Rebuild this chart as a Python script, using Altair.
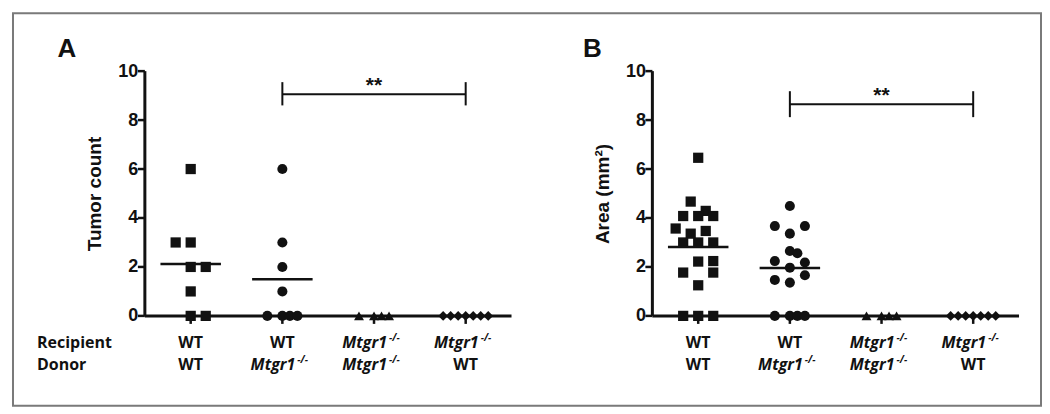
import altair as alt
import pandas as pd

# ---------------- data ----------------
group_ids = [0, 1, 2, 3]
recipient = ["WT", "WT", "Mtgr1", "Mtgr1"]
donor = ["WT", "Mtgr1", "Mtgr1", "WT"]
shapes = ["square", "circle", "triangle-up", "diamond"]
y_tick_values = [0, 2, 4, 6, 8, 10]
x_limits = [-0.5, 3.5]
y_limits = [0, 10]

# Panel A: tumor count (value, horizontal slot within the column)
count_wt_wt = [6, 3, 3, 2, 2, 1, 0, 0]
count_wt_wt_slot = [0, -2, 0, 0, 2, 0, 0, 2]
count_wt_ko = [6, 3, 2, 1, 0, 0, 0, 0]
count_wt_ko_slot = [0, 0, 0, 0, -2, 0, 1, 2]
count_ko_ko = [0, 0, 0, 0]
count_ko_ko_slot = [-2, 0, 1, 2]
count_ko_wt = [0, 0, 0, 0, 0, 0, 0]
count_ko_wt_slot = [-3, -2, -1, 0, 1, 2, 3]

# Panel B: area (mm2)
area_wt_wt = [6.46, 4.67, 4.29, 4.08, 4.08, 4.08, 3.57, 3.47, 3.36, 3.0, 3.0, 3.0,
              2.22, 2.24, 1.77, 1.77, 1.25, 0, 0, 0]
area_wt_wt_slot = [0, -1, 1, -2, 0, 2, -3, 1, -1, -2, 0, 2, 0, 2, -2, 2, 0, -2, 0, 2]
area_wt_ko = [4.49, 3.67, 3.67, 3.36, 2.65, 2.56, 2.24, 2.18, 1.97, 1.66, 1.47, 1.36,
              0, 0, 0, 0]
area_wt_ko_slot = [0, -2, 2, 0, 0, 1, -2, 2, 0, 2, -2, 0, -2, 0, 1, 2]
area_ko_ko = [0, 0, 0, 0]
area_ko_ko_slot = [-2, 0, 1, 2]
area_ko_wt = [0, 0, 0, 0, 0, 0, 0]
area_ko_wt_slot = [-3, -2, -1, 0, 1, 2, 3]

# significance brackets: from group, to group, bar level, tick low/high, star level
bracket_a = [1, 3, 9.06, 8.6, 9.55, 9.5]
bracket_b = [1, 3, 8.65, 8.12, 9.18, 9.1]

# ---------------- style ----------------
W, H = 367, 245
SLOT = 0.082
NUM_FONT = "Liberation Sans"
LAB_FONT = "Open Sans"
INK = "#111111"

x_scale = alt.Scale(domain=x_limits, nice=False, zero=False)
y_scale = alt.Scale(domain=y_limits, nice=False)

AXIS_STYLE = dict(grid=False, domain=False, tickColor="transparent")


def xe(field):
    return alt.X(field, scale=x_scale,
                 axis=alt.Axis(values=group_ids, labels=False, title=None, tickSize=7,
                               **AXIS_STYLE))


def ye(field, title):
    return alt.Y(field, scale=y_scale,
                 axis=alt.Axis(values=y_tick_values, title=title, tickSize=6,
                               labelFont=NUM_FONT, labelFontSize=18, labelFontWeight="bold",
                               labelColor=INK, labelPadding=1, titleFont=NUM_FONT,
                               titleFontSize=19, titleFontWeight="bold", titleColor=INK,
                               titlePadding=13, **AXIS_STYLE))


def points_frame(vals, slots):
    rows = []
    for g, (vs, ss) in enumerate(zip(vals, slots)):
        for v, s in zip(vs, ss):
            rows.append({"group": g, "value": v, "slot": s, "shape": shapes[g]})
    return pd.DataFrame(rows)


labels_df = pd.DataFrame({"group": group_ids, "recipient": recipient, "donor": donor})
yticks_df = pd.DataFrame({"v": y_tick_values})
xaxis_df = pd.DataFrame({"x1": [x_limits[0]], "x2": [x_limits[1]], "y": [y_limits[0]]})
yaxis_df = pd.DataFrame({"x": [x_limits[0]], "y1": [y_limits[0]], "y2": [y_limits[1]]})


def panel(df, ytitle, bracket, letter, letter_x, with_row_titles, with_frame):
    base = alt.Chart(df)
    pts = base.transform_calculate(xpos=f"datum.group + datum.slot * {SLOT}").mark_point(
        filled=True, opacity=1, color=INK
    ).encode(
        x=xe("xpos:Q"),
        y=ye("value:Q", ytitle),
        shape=alt.Shape("shape:N", scale=alt.Scale(domain=shapes, range=shapes), legend=None),
        size=alt.Size("shape:O", scale=alt.Scale(domain=shapes, range=[105, 95, 60, 50]),
                      legend=None),
    )
    means = base.transform_aggregate(mean="mean(value)", groupby=["group"]).transform_filter(
        "datum.mean > 0"
    ).transform_calculate(x1="datum.group - 0.33", x2="datum.group + 0.33").mark_rule(
        strokeWidth=2.5, color=INK
    ).encode(x=xe("x1:Q"), x2="x2:Q", y=ye("mean:Q", ytitle))

    # heavy black axis lines and ticks
    xline = alt.Chart(xaxis_df).mark_rule(strokeWidth=3, color=INK).encode(
        x=xe("x1:Q"), x2="x2:Q", y=ye("y:Q", ytitle))
    yline = alt.Chart(yaxis_df).mark_rule(strokeWidth=3, color=INK).encode(
        x=xe("x:Q"), y=ye("y1:Q", ytitle), y2="y2:Q")
    yticks = alt.Chart(yticks_df).mark_rule(strokeWidth=2.5, color=INK).encode(
        x=alt.value(-7), x2=alt.value(0), y=ye("v:Q", ytitle))
    xticks = alt.Chart(labels_df).mark_rule(strokeWidth=2.5, color=INK).encode(
        x=xe("group:Q"), y=alt.value(H), y2=alt.value(H + 8))

    bdf = pd.DataFrame({"x1": [bracket[0]], "x2": [bracket[1]], "y": [bracket[2]],
                        "star": [bracket[5]], "mid": [(bracket[0] + bracket[1]) / 2]})
    tdf = pd.DataFrame({"x": [bracket[0], bracket[1]], "lo": [bracket[3]] * 2,
                        "hi": [bracket[4]] * 2})
    bar = alt.Chart(bdf).mark_rule(strokeWidth=2, color=INK).encode(
        x=xe("x1:Q"), x2="x2:Q", y=ye("y:Q", ytitle))
    ticks = alt.Chart(tdf).mark_rule(strokeWidth=2, color=INK).encode(
        x=xe("x:Q"), y=ye("lo:Q", ytitle), y2="hi:Q")
    star = alt.Chart(bdf).mark_text(text="**", font=NUM_FONT, fontWeight="bold",
                                    fontSize=21, baseline="middle", color=INK, dy=3).encode(
        x=xe("mid:Q"), y=ye("star:Q", ytitle))

    layers = [xline, yline, yticks, xticks, means, bar, ticks, star, pts]
    if with_frame:
        frame = alt.Chart(pd.DataFrame({"f": [0]})).mark_rect(
            filled=False, color="#7a7a7a", strokeWidth=2
        ).encode(x=alt.value(-132), x2=alt.value(897), y=alt.value(-58), y2=alt.value(335))
        layers.append(frame)

    # group labels below the axis
    for field, ypix in [("recipient", 272), ("donor", 294)]:
        lab = alt.Chart(labels_df)
        layers.append(lab.transform_filter(f"datum.{field} == 'WT'").mark_text(
            font=LAB_FONT, fontWeight="bold", fontSize=16, baseline="middle", color=INK
        ).encode(x=xe("group:Q"), y=alt.value(ypix), text=f"{field}:N"))
        layers.append(lab.transform_filter(f"datum.{field} != 'WT'").mark_text(
            font=LAB_FONT, fontWeight="bold", fontStyle="italic", fontSize=16,
            baseline="middle", align="right", dx=13, color=INK
        ).encode(x=xe("group:Q"), y=alt.value(ypix), text=f"{field}:N"))
        layers.append(lab.transform_filter(f"datum.{field} != 'WT'").mark_text(
            text="-/-", font=LAB_FONT, fontWeight="bold", fontStyle="italic", fontSize=10,
            baseline="middle", align="left", dx=15, dy=-5, color=INK
        ).encode(x=xe("group:Q"), y=alt.value(ypix)))

    if with_row_titles:
        rt = pd.DataFrame({"t": ["Recipient", "Donor"], "r": [0, 1]})
        for i, ypix in enumerate([272, 294]):
            layers.append(alt.Chart(rt).transform_filter(f"datum.r == {i}").mark_text(
                font=LAB_FONT, fontWeight="bold", fontSize=16, baseline="middle",
                align="left", color=INK
            ).encode(x=alt.value(-108), y=alt.value(ypix), text="t:N"))

    layers.append(alt.Chart(pd.DataFrame({"t": [letter]})).mark_text(
        font=NUM_FONT, fontWeight="bold", fontSize=26, baseline="middle", color=INK
    ).encode(x=alt.value(letter_x), y=alt.value(-22), text="t:N"))

    return alt.layer(*layers).properties(width=W, height=H)


df_a = points_frame([count_wt_wt, count_wt_ko, count_ko_ko, count_ko_wt],
                    [count_wt_wt_slot, count_wt_ko_slot, count_ko_ko_slot, count_ko_wt_slot])
df_b = points_frame([area_wt_wt, area_wt_ko, area_ko_ko, area_ko_wt],
                    [area_wt_wt_slot, area_wt_ko_slot, area_ko_ko_slot, area_ko_wt_slot])

panel_a = panel(df_a, "Tumor count", bracket_a, "A", -78, True, True)
panel_b = panel(df_b, "Area (mm²)", bracket_b, "B", -60, False, False)

chart = alt.hconcat(panel_a, panel_b, spacing=141, bounds="flush",
                    background="white").properties(
    padding={"left": 4, "top": 4, "right": 0, "bottom": 0}
).configure_view(stroke=None).configure_axis(
    grid=False, domain=False, tickColor="transparent",
    labelFont=NUM_FONT, labelFontSize=18, labelFontWeight="bold", labelColor=INK,
    titleFont=NUM_FONT, titleFontSize=19, titleFontWeight="bold", titleColor=INK
)

chart.save("out.html", embed_options={"renderer": "svg", "actions": False})
